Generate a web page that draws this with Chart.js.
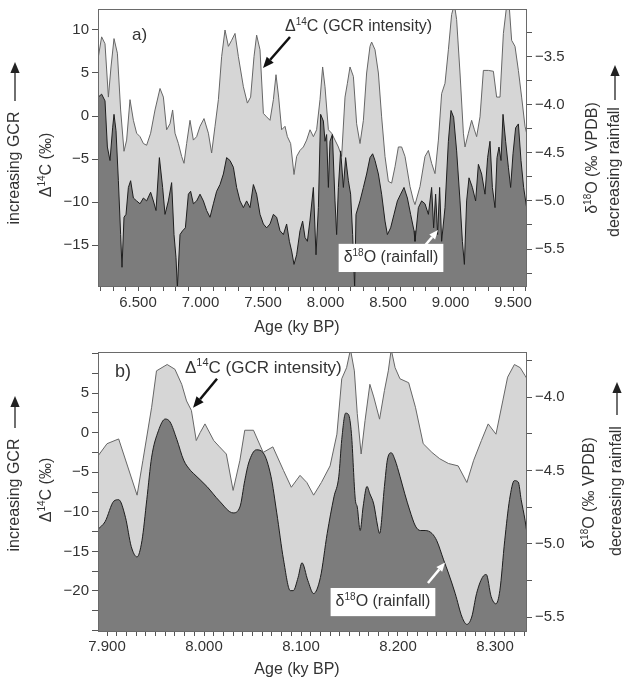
<!DOCTYPE html>
<html lang="en">
<head>
<meta charset="UTF-8">
<title>Δ14C and δ18O records</title>
<script src="https://cdn.jsdelivr.net/npm/chart.js@4"></script>
<style>
  html, body { margin: 0; padding: 0; background: #fff; }
  #wrap { position: relative; width: 626px; height: 679px; }
  canvas { position: absolute; left: 0; }
  #chartA { top: 0; }
  #chartB { top: 340px; }
</style>
</head>
<body>
<div id="wrap">
  <canvas id="chartA" width="626" height="340"></canvas>
  <canvas id="chartB" width="626" height="339"></canvas>
</div>
<script>
const FONT = '"Liberation Sans", Arial, sans-serif';
const INK = '#333';
const LIGHT = '#d6d6d6';
const DARK = '#7c7c7c';

// panel a) Δ14C (left axis, ‰)
const aC14Age = [6.183,6.209,6.236,6.263,6.284,6.308,6.335,6.361,6.388,6.409,6.436,6.463,6.489,6.516,6.543,6.569,6.601,6.636,6.676,6.703,
  6.729,6.756,6.777,6.796,6.823,6.849,6.868,6.889,6.916,6.943,6.969,6.996,7.028,7.063,7.089,7.116,7.143,7.169,7.196,7.223,
  7.249,7.276,7.303,7.343,7.375,7.401,7.428,7.449,7.476,7.503,7.529,7.556,7.583,7.604,7.625,7.649,7.676,7.695,7.721,7.748,
  7.769,7.796,7.823,7.849,7.876,
  7.903,7.929,7.956,7.977,7.996,8.023,8.049,8.076,8.103,8.129,8.156,8.175,8.196,8.223,8.249,8.276,8.303,8.329,8.356,8.369,
  8.396,8.423,8.449,8.476,8.503,8.529,8.556,8.583,8.609,8.636,8.676,8.703,
  8.716,8.756,8.796,8.823,8.849,8.876,8.903,8.929,8.956,8.983,9.009,9.031,9.049,9.076,9.103,9.116,9.143,9.169,9.191,9.209,
  9.236,9.263,9.303,9.343,9.369,9.396,9.423,9.449,9.471,9.489,9.516,9.543,9.569,9.596,9.609];
const aC14 = [6.9,9.2,8.4,2.2,5.7,9.0,7.3,0.7,-4.1,-2.8,1.9,-0.5,-2.0,-2.4,-3.2,-3.4,-2.0,0.7,3.2,2.2,
  -1.6,-0.9,0.7,-2.0,-3.2,-4.7,-5.5,-3.2,-0.5,-2.8,-2.4,-1.2,-0.3,-2.0,-4.3,-1.2,1.9,6.9,10.0,8.1,
  8.8,9.6,6.9,3.4,1.5,2.2,6.9,9.4,7.7,0.3,-0.1,-0.5,1.9,4.8,2.2,-1.6,-1.2,-2.4,-3.2,-6.8,
  -4.7,-4.0,-3.6,-2.8,-1.6,
  -2.4,-1.6,1.9,5.7,3.4,-1.6,-2.0,-2.8,-3.6,-4.7,2.2,3.8,5.7,4.6,-0.9,-3.2,-0.5,5.0,8.1,8.6,
  7.7,5.0,-0.1,-4.7,-7.6,-7.8,-5.9,-3.6,-3.6,-4.7,-8.2,-9.8,
  -10.3,-8.2,-4.7,-4.0,-5.5,-6.7,-2.8,2.6,3.8,7.7,11.8,13.0,11.2,5.0,-2.0,-3.6,-2.0,-0.5,-1.6,-2.4,
  -0.1,5.3,5.3,5.2,2.2,2.2,9.6,12.8,12.5,8.8,8.1,5.3,2.2,-1.2,-2.0];

// panel a) δ18O (right axis, ‰ VPDB)
const aO18Age = [6.183,6.209,6.236,6.255,6.276,6.297,6.308,6.324,6.343,6.361,6.372,6.388,6.404,6.423,6.441,6.463,6.489,6.516,6.543,6.569,
  6.601,6.623,6.644,6.671,6.697,6.716,6.743,6.769,6.788,6.804,6.815,6.836,6.857,6.879,6.903,6.921,6.943,6.969,6.996,7.023,
  7.049,7.076,7.103,7.129,7.156,7.183,7.209,7.236,7.263,7.289,7.316,7.343,7.369,7.396,7.423,7.449,7.476,7.503,7.529,7.556,
  7.583,7.609,7.636,7.663,7.689,7.711,7.729,7.748,7.769,7.796,7.817,7.836,7.855,7.876,
  7.903,7.924,7.943,7.961,7.983,7.996,8.009,8.023,8.036,8.055,8.076,8.089,8.103,8.121,8.143,8.161,8.183,8.201,8.217,8.233,
  8.244,8.276,8.303,8.329,8.356,8.377,8.396,8.423,8.449,8.476,8.495,8.521,8.548,8.575,8.601,8.628,8.655,8.681,8.708,
  8.716,8.743,8.769,8.796,8.823,8.849,8.865,8.881,8.897,8.913,8.929,8.956,8.983,9.004,9.025,9.049,9.076,9.095,9.111,9.129,
  9.148,9.175,9.201,9.223,9.249,9.276,9.297,9.316,9.335,9.356,9.372,9.388,9.404,9.420,9.441,9.463,9.481,9.500,9.521,9.543,
  9.564,9.585,9.609];
const aO18 = [-3.92,-3.89,-3.96,-4.44,-4.58,-4.24,-4.10,-4.27,-4.79,-5.35,-5.69,-5.17,-5.14,-4.86,-4.79,-4.97,-5.00,-5.03,-4.97,-5.00,
  -4.91,-5.00,-5.10,-4.55,-4.86,-5.14,-5.00,-4.81,-5.35,-5.59,-5.90,-5.35,-5.31,-5.28,-4.93,-4.90,-5.03,-5.00,-4.93,-5.00,
  -5.10,-5.17,-5.03,-4.90,-4.83,-4.72,-4.55,-4.58,-4.65,-4.86,-5.00,-5.07,-5.00,-5.07,-4.83,-4.93,-5.14,-5.24,-5.28,-5.24,
  -5.14,-5.17,-5.31,-5.35,-5.24,-5.42,-5.52,-5.66,-5.56,-5.31,-5.21,-5.38,-5.42,-5.20,
  -4.86,-5.56,-5.07,-4.10,-4.17,-4.38,-4.31,-4.86,-4.38,-4.31,-5.00,-5.35,-4.86,-4.48,-4.86,-4.55,-4.79,-4.93,-5.35,-5.90,
  -5.14,-5.00,-4.86,-4.72,-4.55,-4.51,-4.58,-4.72,-4.93,-5.21,-5.35,-5.28,-5.14,-5.00,-4.93,-4.86,-4.97,-5.14,-5.31,
  -5.42,-5.07,-5.00,-5.03,-5.14,-4.86,-5.28,-4.93,-5.35,-4.86,-5.42,-5.07,-4.38,-4.06,-4.13,-4.48,-5.00,-5.42,-5.66,-5.00,
  -4.76,-4.86,-5.00,-4.62,-4.72,-4.93,-4.55,-4.38,-4.86,-5.07,-4.55,-4.44,-4.58,-4.10,-4.38,-4.65,-4.86,-4.51,-4.24,-4.20,
  -4.58,-4.86,-5.07];

// panel b) Δ14C
const bC14Age = [7.891,7.900,7.912,7.931,7.937,7.946,7.951,7.962,7.970,7.977,7.982,7.987,7.992,7.996,8.001,8.010,8.016,8.023,8.030,8.037,
  8.042,8.051,8.061,8.071,8.082,8.090,
  8.099,8.106,8.113,8.121,8.130,8.137,8.142,8.147,8.151,8.155,8.158,8.162,8.166,8.171,8.175,8.181,8.186,8.190,8.193,8.197,
  8.202,8.211,8.218,8.226,8.235,8.243,8.252,8.262,8.271,8.278,8.286,8.293,8.301,8.308,8.313,8.320,8.326,8.331,8.333];
const bC14 = [-2.9,-1.4,-0.8,-7.9,-3.5,3.2,7.8,8.6,8.0,6.1,4.0,2.8,-1.0,0.0,1.1,-1.0,-1.8,-2.7,-7.3,-3.5,
  0.3,0.3,-2.5,-1.8,-4.8,-6.9,
  -5.4,-6.3,-7.9,-6.3,-4.2,-0.2,6.8,8.2,10.5,7.8,2.4,-2.7,1.5,6.1,4.5,1.7,5.3,7.8,10.5,8.2,
  6.8,6.3,3.2,-1.4,-2.5,-3.3,-3.9,-4.2,-6.3,-3.5,-1.0,1.1,-0.2,4.0,7.0,8.6,8.2,7.2,6.8];

// panel b) δ18O
const bO18Age = [7.891,7.898,7.907,7.912,7.919,7.925,7.931,7.936,7.941,7.946,7.953,7.960,7.965,7.972,7.979,7.986,7.989,8.003,8.016,8.030,
  8.037,8.042,8.046,8.054,8.061,8.069,8.075,8.082,8.089,8.092,8.097,8.101,8.107,8.113,
  8.120,8.127,8.134,8.139,8.142,8.146,8.149,8.152,8.156,8.158,8.161,8.164,8.168,8.171,8.175,8.179,8.181,8.186,8.189,8.193,
  8.197,8.202,8.207,8.212,8.218,8.223,8.228,8.235,8.240,8.247,8.252,8.259,8.266,8.271,8.276,8.281,8.287,8.291,8.296,8.301,
  8.305,8.310,8.315,8.320,8.324,8.327,8.331,8.333];
const bO18 = [-4.90,-4.85,-4.71,-4.70,-4.82,-5.02,-5.09,-4.98,-4.70,-4.41,-4.23,-4.15,-4.17,-4.29,-4.43,-4.50,-4.52,-4.61,-4.71,-4.79,
  -4.75,-4.57,-4.45,-4.36,-4.38,-4.54,-4.79,-5.11,-5.32,-5.32,-5.23,-5.13,-5.25,-5.34,
  -5.23,-4.93,-4.68,-4.54,-4.29,-4.11,-4.12,-4.25,-4.70,-4.75,-4.91,-4.75,-4.61,-4.66,-4.73,-4.88,-4.93,-4.61,-4.43,-4.38,
  -4.43,-4.54,-4.66,-4.77,-4.88,-4.91,-4.91,-4.93,-4.98,-5.11,-5.20,-5.34,-5.50,-5.55,-5.50,-5.34,-5.23,-5.21,-5.36,-5.41,
  -5.32,-4.98,-4.70,-4.57,-4.58,-4.70,-4.84,-4.93];

// tick labels
const aAgeLabels = ['6.500','7.000','7.500','8.000','8.500','9.000','9.500'];
const aC14Labels = [-15, -10, -5, 0, 5, 10];
const aO18Labels = [-5.5, -5.0, -4.5, -4.0, -3.5];
const bAgeLabels = ['7.900','8.000','8.100','8.200','8.300'];
const bC14Labels = [-20, -15, -10, -5, 0, 5];
const bO18Labels = [-5.5, -5.0, -4.5, -4.0];

const pts = (xs, ys) => xs.map((x, i) => ({x, y: ys[i]}));
const minus = s => s.replace('-', '\u2212');
const near = (v, list) => list.some(l => Math.abs(l - v) < 1e-6);

function measure(ctx, parts, size) {
  let w = 0;
  for (const p of parts) {
    ctx.font = `${p[1] ? Math.round(size * 0.62) : size}px ${FONT}`;
    w += ctx.measureText(p[0]).width;
  }
  return w;
}

function rich(ctx, parts, x, y, size, align, rot) {
  const w = measure(ctx, parts, size);
  ctx.save();
  ctx.translate(x, y);
  if (rot) ctx.rotate(-Math.PI / 2);
  ctx.textBaseline = 'middle';
  ctx.textAlign = 'left';
  let cx = align === 'left' ? 0 : -w / 2;
  for (const p of parts) {
    ctx.font = `${p[1] ? Math.round(size * 0.62) : size}px ${FONT}`;
    ctx.fillText(p[0], cx, p[1] ? -size * 0.32 : 0);
    cx += ctx.measureText(p[0]).width;
  }
  ctx.restore();
  return w;
}

function arrow(ctx, x1, y1, x2, y2, color, lw, head) {
  const ang = Math.atan2(y2 - y1, x2 - x1);
  const bx = x2 - head * Math.cos(ang), by = y2 - head * Math.sin(ang);
  const hw = head * 0.42;
  ctx.strokeStyle = color;
  ctx.fillStyle = color;
  ctx.lineWidth = lw;
  ctx.beginPath();
  ctx.moveTo(x1, y1);
  ctx.lineTo(bx, by);
  ctx.stroke();
  ctx.beginPath();
  ctx.moveTo(x2, y2);
  ctx.lineTo(bx + hw * Math.sin(ang), by - hw * Math.cos(ang));
  ctx.lineTo(bx - hw * Math.sin(ang), by + hw * Math.cos(ang));
  ctx.closePath();
  ctx.fill();
}

// frame, labels and arrows
const decor = {
  id: 'decor',
  afterDatasetsDraw(chart, args, opts) {
    const {ctx, chartArea: a, scales} = chart;
    const X = v => scales.x.getPixelForValue(v);
    const Y = v => scales.yL.getPixelForValue(v);
    ctx.save();
    ctx.strokeStyle = '#6a6a6a';
    ctx.lineWidth = 1;
    ctx.strokeRect(a.left + 0.5, a.top + 0.5, a.right - a.left - 1, a.bottom - a.top - 1);
    for (const ar of opts.arrows) {
      arrow(ctx, X(ar.from[0]), Y(ar.from[1]), X(ar.to[0]), Y(ar.to[1]), ar.color, ar.lw, ar.head);
    }
    for (const t of opts.notes) {
      const x = X(t.x), y = Y(t.y);
      if (t.box) {
        const w = measure(ctx, t.parts, t.size);
        ctx.fillStyle = '#fff';
        ctx.fillRect(x - w / 2 - 5, y - t.size * 0.88, w + 10, t.size * 1.76);
      }
      ctx.fillStyle = INK;
      rich(ctx, t.parts, x, y, t.size, t.align || 'center', false);
    }
    ctx.restore();
  },
  afterDraw(chart, args, opts) {
    const {ctx} = chart;
    ctx.save();
    ctx.fillStyle = INK;
    for (const t of opts.side) rich(ctx, t.parts, t.x, t.y, t.size, 'center', t.rot);
    for (const ar of opts.sideArrows) arrow(ctx, ar[0], ar[1], ar[2], ar[3], '#222', 1.3, 11);
    ctx.restore();
  }
};

function panel(id, cfg) {
  const tickFont = {family: FONT, size: 15};
  return new Chart(document.getElementById(id), {
    type: 'line',
    data: {
      datasets: [
        {
          label: 'δ18O', data: pts(cfg.o18Age, cfg.o18), yAxisID: 'yR', order: 1,
          fill: 'start', backgroundColor: DARK, borderColor: '#1e1e1e', borderWidth: 1,
          pointRadius: 0, cubicInterpolationMode: cfg.smooth ? 'monotone' : 'default', tension: cfg.smooth ? 0.4 : 0
        },
        {
          label: 'Δ14C', data: pts(cfg.c14Age, cfg.c14), yAxisID: 'yL', order: 2,
          fill: 'start', backgroundColor: LIGHT, borderColor: '#666', borderWidth: 1,
          pointRadius: 0, tension: 0
        }
      ]
    },
    options: {
      responsive: false,
      animation: false,
      events: [],
      layout: {padding: {top: cfg.top, left: 0, right: 0, bottom: 0}},
      scales: {
        x: {
          type: 'linear', min: cfg.xMin, max: cfg.xMax,
          afterFit: s => { s.height = cfg.xHeight; s.paddingLeft = 0; s.paddingRight = 0; },
          border: {display: false},
          grid: {drawOnChartArea: false, tickLength: 4, color: '#555'},
          ticks: {
            stepSize: cfg.xStep, includeBounds: false, autoSkip: false, maxRotation: 0,
            padding: cfg.xPad, color: INK, font: tickFont,
            callback: v => cfg.xLabels.includes(v.toFixed(3)) ? v.toFixed(3) : ''
          }
        },
        yL: {
          position: 'left', min: cfg.lMin, max: cfg.lMax,
          afterFit: s => { s.width = 98; s.paddingTop = 0; s.paddingBottom = 0; },
          border: {display: false},
          grid: {drawOnChartArea: false, tickLength: 6, color: '#555'},
          ticks: {
            stepSize: cfg.lStep, includeBounds: false, autoSkip: false, padding: 3, color: INK, font: tickFont,
            callback: v => near(v, cfg.lLabels) ? minus(String(Math.round(v))) : ''
          }
        },
        yR: {
          position: 'right', min: cfg.rMin, max: cfg.rMax,
          afterFit: s => { s.width = 99; s.paddingTop = 0; s.paddingBottom = 0; },
          border: {display: false},
          grid: {drawOnChartArea: false, tickLength: 5, color: '#555'},
          ticks: {
            stepSize: 0.25, includeBounds: false, autoSkip: false, padding: 3, color: INK, font: tickFont,
            callback: v => near(v, cfg.rLabels) ? minus(v.toFixed(1)) : ''
          }
        }
      },
      plugins: {
        legend: {display: false},
        tooltip: {enabled: false},
        decor: cfg.decor
      }
    },
    plugins: [decor]
  });
}

const C14 = [['Δ'], ['14', 1], ['C (GCR intensity)']];
const O18 = [['δ'], ['18', 1], ['O (rainfall)']];
const C14axis = [['Δ'], ['14', 1], ['C (‰)']];
const O18axis = [['δ'], ['18', 1], ['O (‰ VPDB)']];

panel('chartA', {
  c14Age: aC14Age, c14: aC14, o18Age: aO18Age, o18: aO18, smooth: false,
  top: 9, xHeight: 53, xPad: 3,
  xMin: 6.18, xMax: 9.612, xStep: 0.1, xLabels: aAgeLabels,
  lMin: -19.88, lMax: 12.44, lStep: 5, lLabels: aC14Labels,
  rMin: -5.895, rMax: -3.005, rLabels: aO18Labels,
  decor: {
    notes: [
      {x: 6.452, y: 9.4, parts: [['a)']], size: 17, align: 'left'},
      {x: 7.676, y: 10.35, parts: C14, size: 16, align: 'left'},
      {x: 8.524, y: -16.5, parts: O18, size: 16, box: true}
    ],
    arrows: [
      {from: [7.716, 9.19], to: [7.5, 5.58], color: '#111', lw: 2.5, head: 11},
      {from: [8.772, -15.47], to: [8.9, -13.26], color: '#fff', lw: 2.5, head: 9}
    ],
    side: [
      {x: 15, y: 168, parts: [['increasing GCR']], size: 16, rot: true},
      {x: 47, y: 165, parts: C14axis, size: 16, rot: true},
      {x: 593, y: 158, parts: O18axis, size: 16, rot: true},
      {x: 615, y: 172, parts: [['decreasing rainfall']], size: 16, rot: true},
      {x: 297, y: 328, parts: [['Age (ky BP)']], size: 16, rot: false}
    ],
    sideArrows: [[15, 101, 15, 62], [615, 100, 615, 65]]
  }
});

panel('chartB', {
  c14Age: bC14Age, c14: bC14, o18Age: bO18Age, o18: bO18, smooth: true,
  top: 12, xHeight: 47, xPad: 2,
  xMin: 7.8907, xMax: 8.333, xStep: 0.01, xLabels: bAgeLabels,
  lMin: -25.18, lMax: 10.18, lStep: 2.5, lLabels: bC14Labels,
  rMin: -5.602, rMax: -3.693, rLabels: bO18Labels,
  decor: {
    notes: [
      {x: 7.9082, y: 7.68, parts: [['b)']], size: 18, align: 'left'},
      {x: 7.9804, y: 8.06, parts: C14, size: 17, align: 'left'},
      {x: 8.1845, y: -21.4, parts: O18, size: 16, box: true}
    ],
    arrows: [
      {from: [8.0134, 6.8], to: [7.9887, 3.15], color: '#111', lw: 2.5, head: 11},
      {from: [8.2309, -19.0], to: [8.2485, -16.4], color: '#fff', lw: 2.5, head: 9}
    ],
    side: [
      {x: 15, y: 155, parts: [['increasing GCR']], size: 16, rot: true},
      {x: 47, y: 150, parts: C14axis, size: 16, rot: true},
      {x: 590, y: 153, parts: O18axis, size: 16, rot: true},
      {x: 617, y: 151, parts: [['decreasing rainfall']], size: 16, rot: true},
      {x: 297, y: 330, parts: [['Age (ky BP)']], size: 16, rot: false}
    ],
    sideArrows: [[15, 88, 15, 56], [617, 75, 617, 42]]
  }
});
</script>
</body>
</html>
